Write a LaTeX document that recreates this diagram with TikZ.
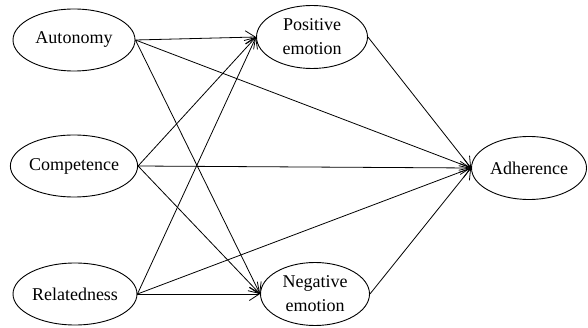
\documentclass[tikz,border=0pt]{standalone}
\usepackage{fontspec}
\setmainfont{Liberation Serif}
\usetikzlibrary{shapes.geometric,arrows.meta}
\begin{document}
\begin{tikzpicture}[x=1pt,y=1pt,
  var/.style={draw,ellipse,line width=0.9pt,inner sep=0pt,align=center,
    font=\fontsize{18}{24}\selectfont},
  arr/.style={-{Straight Barb[length=10pt,width=13pt]},line width=0.8pt}]
\useasboundingbox (0,0) rectangle (588,-328);
\node[var,minimum width=122,minimum height=62] (au) at (74,-40) {Autonomy};
\node[var,minimum width=122,minimum height=62] (co) at (74,-166) {Competence};
\node[var,minimum width=124,minimum height=62] (re) at (75,-294) {Relatedness};
\node[var,minimum width=111,minimum height=63] (pe) at (312,-37) {Positive\\emotion};
\node[var,minimum width=109,minimum height=63] (ne) at (315,-294) {Negative\\emotion};
\node[var,minimum width=115,minimum height=63] (ad) at (529,-168) {Adherence};
\foreach \s in {au,co,re}{
  \draw[arr] (\s.east) -- (pe.west);
  \draw[arr] (\s.east) -- (ne.west);
  \draw[arr] (\s.east) -- (ad.west);
}
\draw[arr] (pe.east) -- (ad.west);
\draw[arr] (ne.east) -- (ad.west);
\end{tikzpicture}
\end{document}
